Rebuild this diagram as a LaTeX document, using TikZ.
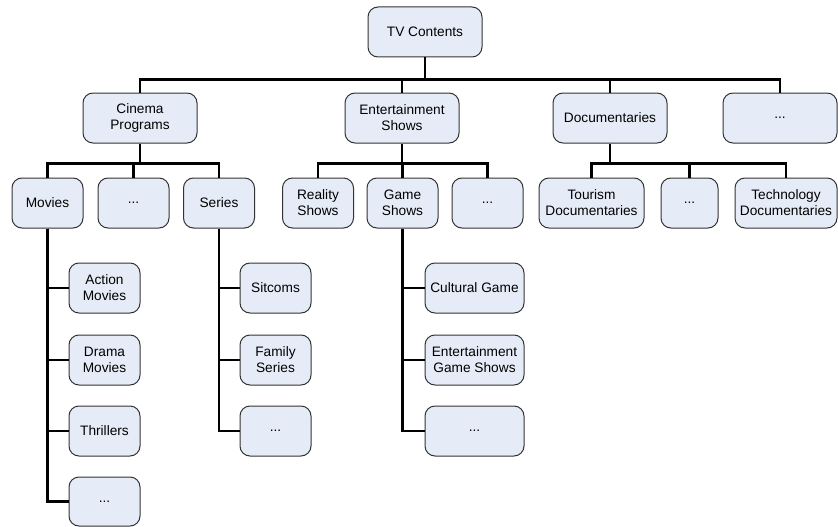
\documentclass[tikz,border=0pt]{standalone}
\usepackage{fontspec}
\setmainfont{Liberation Sans}
\definecolor{boxfill}{HTML}{E6ECF7}
\definecolor{boxline}{HTML}{333333}
\begin{document}
\begin{tikzpicture}[x=1pt,y=-1pt,
  box/.style={draw=boxline,fill=boxfill,rounded corners=10pt,line width=1pt,
    inner sep=0pt,align=center,minimum height=50pt,
    font=\fontsize{13.7}{16}\selectfont},
  wide/.style={box,minimum width=114pt},
  mid/.style={box,minimum width=71pt},
  link/.style={line width=2.3pt,black}]
\useasboundingbox (0,0) rectangle (838,527);
% top level
\node[wide] (root) at (425,32) {TV Contents};
\node[wide] (cin) at (140,118) {Cinema\\Programs};
\node[wide] (ent) at (402,118) {Entertainment\\Shows};
\node[wide] (doc) at (610,118) {Documentaries};
\node[wide] (dotsA) at (780,118) {...};
% second level
\node[mid] (mov) at (47.5,203) {Movies};
\node[mid] (dotsB) at (133.5,203) {...};
\node[mid] (ser) at (219,203) {Series};
\node[mid] (rea) at (318,203) {Reality\\Shows};
\node[mid] (gam) at (402.5,203) {Game\\Shows};
\node[mid] (dotsC) at (487.5,203) {...};
\node[box,minimum width=105pt] (tou) at (591.5,203) {Tourism\\Documentaries};
\node[box,minimum width=57pt] (dotsD) at (689.5,203) {...};
\node[box,minimum width=102pt] (tec) at (786,203) {Technology\\Documentaries};
% third level
\node[mid] (act) at (104.5,288) {Action\\Movies};
\node[mid] (dra) at (104.5,360) {Drama\\Movies};
\node[mid] (thr) at (104.5,431) {Thrillers};
\node[box,minimum width=71pt,minimum height=49pt] (dotsE) at (104.5,501.5) {...};
\node[mid] (sit) at (275.5,288) {Sitcoms};
\node[mid] (fam) at (275.5,360) {Family\\Series};
\node[mid] (dotsF) at (275.5,431) {...};
\node[box,minimum width=99pt] (cul) at (474.5,288) {Cultural Game};
\node[box,minimum width=99pt] (egs) at (474.5,360) {Entertainment\\Game Shows};
\node[box,minimum width=99pt] (dotsG) at (474.5,431) {...};
% connectors
\foreach \c in {cin,ent,doc,dotsA}
  \draw[link] (root.south) -- ++(0,22) -| (\c.north);
\foreach \c in {mov,dotsB,ser}
  \draw[link] (cin.south) -- ++(0,20) -| (\c.north);
\foreach \c in {rea,gam,dotsC}
  \draw[link] (ent.south) -- ++(0,20) -| (\c.north);
\foreach \c in {tou,dotsD,tec}
  \draw[link] (doc.south) -- ++(0,20) -| (\c.north);
\foreach \c in {act,dra,thr,dotsE}
  \draw[link] (mov.south) |- (\c.west);
\foreach \c in {sit,fam,dotsF}
  \draw[link] (ser.south) |- (\c.west);
\foreach \c in {cul,egs,dotsG}
  \draw[link] (gam.south) |- (\c.west);
\end{tikzpicture}
\end{document}
